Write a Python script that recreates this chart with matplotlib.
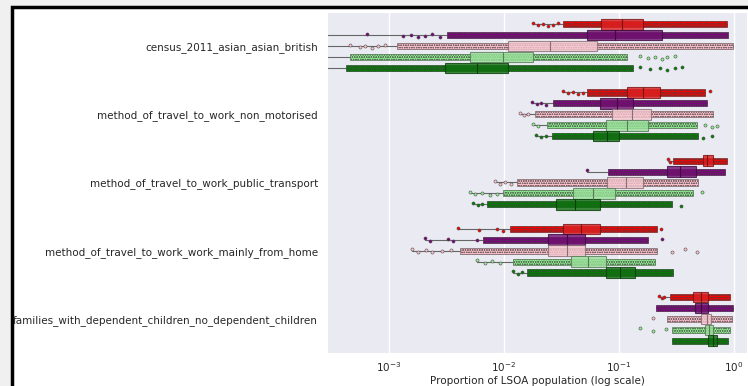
import numpy as np
import matplotlib.pyplot as plt
import matplotlib.colors as mcolors
import seaborn as sns
from matplotlib.patches import Rectangle

sns.set_style('darkgrid')
plt.rcParams['font.family'] = ['DejaVu Sans']
plt.rcParams['hatch.linewidth'] = 0.4

variables = ['census_2011_asian_asian_british',
             'method_of_travel_to_work_non_motorised',
             'method_of_travel_to_work_public_transport',
             'method_of_travel_to_work_work_mainly_from_home',
             'families_with_dependent_children_no_dependent_children']
palette = ['red', 'purple', 'pink', 'lightgreen', 'green']

# box stats: one row per variable, one column per cluster
q1 = [[0.0705, 0.053, 0.0109, 0.0051, 0.0031],
      [0.119, 0.069, 0.088, 0.0778, 0.060],
      [0.543, 0.264, 0.0794, 0.0402, 0.0286],
      [0.033, 0.0244, 0.0244, 0.0387, 0.078],
      [0.444, 0.463, 0.521, 0.565, 0.600]]
median = [[0.107, 0.093, 0.0254, 0.0099, 0.0059],
          [0.163, 0.097, 0.131, 0.119, 0.079],
          [0.589, 0.343, 0.116, 0.060, 0.0418],
          [0.047, 0.0356, 0.0356, 0.054, 0.103],
          [0.521, 0.521, 0.589, 0.612, 0.663]]
q3 = [[0.163, 0.239, 0.065, 0.018, 0.0109],
      [0.23, 0.134, 0.192, 0.18, 0.101],
      [0.663, 0.472, 0.163, 0.0933, 0.069],
      [0.069, 0.051, 0.051, 0.078, 0.139],
      [0.60, 0.60, 0.637, 0.663, 0.72]]
whis_lo = [[0.0181, 0.0, 0.0, 0.0, 0.0],
           [0.0329, 0.0177, 0.0139, 0.018, 0.0192],
           [0.269, 0.053, 0.0084, 0.0051, 0.0054],
           [0.0040, 0.00208, 0.0016, 0.0059, 0.0121],
           [0.225, 0.212, 0.264, 0.292, 0.292]]
whis_hi = [[0.88, 0.90, 0.98, 0.119, 0.134],
           [0.565, 0.589, 0.66, 0.48, 0.491],
           [0.88, 0.843, 0.491, 0.444, 0.292],
           [0.216, 0.18, 0.216, 0.208, 0.298],
           [0.93, 0.99, 0.97, 0.93, 0.90]]

# where the LSOA points are packed solid
dense_lo = [[0.033, 0.0032, 0.00119, 0.00046, 0.00043],
            [0.053, 0.0269, 0.0188, 0.0239, 0.0264],
            [0.298, 0.081, 0.0131, 0.0099, 0.0072],
            [0.0114, 0.0066, 0.0042, 0.0121, 0.016],
            [0.28, 0.212, 0.264, 0.292, 0.292]]
dense_hi = whis_hi

# scattered LSOAs outside the dense band
tail_red = [[0.0181, 0.0200, 0.022, 0.0244, 0.0269, 0.0298],
            [0.0329, 0.0362, 0.0402, 0.044, 0.049, 0.625],
            [0.269, 0.28],
            [0.0040, 0.0061, 0.0088, 0.0099, 0.234],
            [0.225, 0.239, 0.25]]
tail_purple = [[0.00065, 0.00134, 0.00157, 0.00181, 0.00208, 0.00239, 0.0028],
               [0.0177, 0.0196, 0.0212, 0.0234],
               [0.053],
               [0.00208, 0.0023, 0.0033, 0.0036, 0.0059, 0.239],
               []]
tail_pink = [[0.00046, 0.000565, 0.00063, 0.00072, 0.00081, 0.00093],
             [0.0139, 0.0152, 0.0164],
             [0.0084, 0.0093, 0.0103, 0.0116],
             [0.0016, 0.0018, 0.0021, 0.0024, 0.0029, 0.0035, 0.292, 0.378, 0.48],
             [0.2]]
tail_lightgreen = [[0.154, 0.18, 0.208, 0.239, 0.264, 0.31],
                   [0.0180, 0.0198, 0.565, 0.65, 0.72],
                   [0.0051, 0.0057, 0.0065, 0.0077, 0.0088, 0.532],
                   [0.0059, 0.0069, 0.008, 0.0093],
                   [0.154, 0.2, 0.259]]
tail_green = [[0.154, 0.188, 0.23, 0.264, 0.31, 0.356],
              [0.0192, 0.0212, 0.0232, 0.543, 0.65],
              [0.0054, 0.006, 0.0065, 0.349],
              [0.0121, 0.0133, 0.0145],
              []]
tails = [tail_red, tail_purple, tail_pink, tail_lightgreen, tail_green]

fig = plt.figure(figsize=(7.48, 3.86), dpi=100, facecolor='#f0f0f0')
fig.patches.append(Rectangle((12 / 748, -0.05), 1.1, 1.05 - 7 / 386,
                             transform=fig.transFigure, facecolor='white',
                             edgecolor='black', lw=2.5, zorder=-1))
ax = fig.add_axes([327 / 748, 1 - 353 / 386, 420 / 748, 341 / 386])
ax.set_xscale('log')

n_hue = len(palette)
slot = 0.8 / n_hue
jitter = [-0.02, 0.015, -0.005, 0.025, 0.005, -0.015, 0.02]


def shade(color, f):
    return tuple(v * f for v in mcolors.to_rgb(color))


def mix(a, b, t=0.5):
    a, b = mcolors.to_rgb(a), mcolors.to_rgb(b)
    return tuple(x * (1 - t) + y * t for x, y in zip(a, b))


for j, c in enumerate(palette):
    box_c = sns.desaturate(c, 0.75)
    dark = shade(box_c, 0.55)
    pos = [i + (j - (n_hue - 1) / 2) * slot for i in range(len(variables))]
    stats = [dict(q1=q1[i][j], med=median[i][j], q3=q3[i][j],
                  whislo=whis_lo[i][j], whishi=whis_hi[i][j], fliers=[])
             for i in range(len(variables))]
    ax.bxp(stats, positions=pos, widths=slot * 0.97, orientation='horizontal',
           patch_artist=True, showcaps=False, manage_ticks=False, zorder=3,
           boxprops=dict(facecolor=box_c, edgecolor=dark, lw=0.8, alpha=0.8),
           medianprops=dict(color=dark, lw=0.8),
           whiskerprops=dict(color='0.4', lw=0.8, zorder=1.5))
    # packed points drawn as one textured band per row
    lo = [dense_lo[i][j] for i in range(len(variables))]
    hi = [dense_hi[i][j] for i in range(len(variables))]
    ax.barh(pos, np.array(hi) - np.array(lo), left=lo, height=0.09,
            color=c, edgecolor=mix(shade(c, 0.6), '0.35'), lw=0.5,
            hatch='o' * 7, zorder=2)
    for i in range(len(variables)):
        t = tails[j][i]
        dy = [jitter[k % len(jitter)] for k in range(len(t))]
        ax.scatter(t, np.array(dy) + pos[i], s=5, color=c, edgecolor='0.3',
                   lw=0.4, zorder=2.5)

ax.set_xlim(10 ** -3.535, 10 ** 0.117)
ax.set_ylim(len(variables) - 0.5, -0.5)
ax.set_yticks(range(len(variables)))
ax.set_yticklabels(variables, fontsize=7.5)
ax.tick_params(axis='x', labelsize=7.5, pad=2)
ax.tick_params(axis='y', pad=3)
ax.grid(False, axis='y')
ax.grid(True, which='major', axis='x', color='white', lw=1)
ax.set_xlabel('Proportion of LSOA population (log scale)', fontsize=7.5, labelpad=1)

fig.savefig('out.png', dpi=100, facecolor=fig.get_facecolor())
